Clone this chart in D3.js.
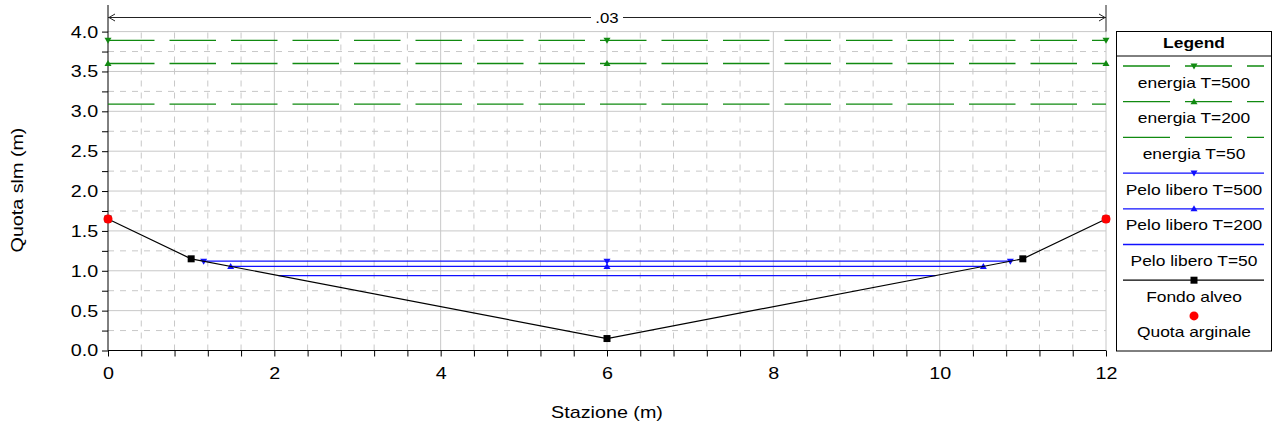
<!DOCTYPE html>
<html>
<head>
<meta charset="utf-8">
<script src="https://cdn.jsdelivr.net/npm/d3@7"></script>
<style>
  body { margin: 0; background: #fff; }
  text { font-family: "Liberation Sans", Arial, sans-serif; fill: #000; }
</style>
</head>
<body>
<svg width="1273" height="435"></svg>
<script>
// cross-section data
const stazioni = [0, 1, 6, 11, 12];
const fondoAlveo = [1.65, 1.15, 0.15, 1.15, 1.65];
const argineX = [0, 12];
const argineY = [1.65, 1.65];

const energiaNames = ['energia T=500', 'energia T=200', 'energia T=50'];
const energiaY = [3.89, 3.60, 3.09];
const energiaX = [0, 12];
const energiaMarkX = [[0, 6, 12], [0, 6, 12], []];

const peloNames = ['Pelo libero T=500', 'Pelo libero T=200', 'Pelo libero T=50'];
const peloY = [1.12, 1.055, 0.94];
const peloX = [[1.15, 10.85], [1.475, 10.525], [2.05, 9.95]];
const peloMarkX = [[1.15, 6, 10.85], [1.475, 6, 10.525], []];

const xTicks = [0, 2, 4, 6, 8, 10, 12];
const yTicks = [0, 0.5, 1, 1.5, 2, 2.5, 3, 3.5, 4];
const dimLabel = '.03';

const [w, h] = [1273, 435];
const sx = 1.16; // text in the picture is a bit wide
const x = d3.scaleLinear().domain([0, 12]).range([108, 1106]);
const y = d3.scaleLinear().domain([0, 4]).range([350.5, 31.6]);

const svg = d3.select('svg').attr('width', w).attr('height', h);

const green = '#118a11', blue = '#1010ff';
const markerPath = {
  down: 'M-3.5,-2.5L3.5,-2.5L0,3.5Z',
  up: 'M-3.5,2.5L3.5,2.5L0,-3.5Z',
  square: 'M-3.5,-3.5H3.5V3.5H-3.5Z'
};

// grid
const grid = svg.append('g');
const minorY = d3.range(0.25, 4, 0.5);
const minorX = d3.range(0.4, 12, 0.4).filter(v => Math.abs(v / 2 - Math.round(v / 2)) > 0.01);
grid.selectAll('.gy').data(minorY).enter().append('line')
  .attr('x1', x(0)).attr('x2', x(12))
  .attr('y1', d => y(d)).attr('y2', d => y(d))
  .attr('stroke', '#c8c8c8').attr('stroke-dasharray', '6,6');
grid.selectAll('.gx').data(minorX).enter().append('line')
  .attr('x1', d => x(d)).attr('x2', d => x(d))
  .attr('y1', y(0)).attr('y2', y(4))
  .attr('stroke', '#c8c8c8').attr('stroke-dasharray', '6,6');
grid.selectAll('.Gy').data(yTicks.slice(1)).enter().append('line')
  .attr('x1', x(0)).attr('x2', x(12))
  .attr('y1', d => y(d)).attr('y2', d => y(d))
  .attr('stroke', '#c8c8c8');
grid.selectAll('.Gx').data(xTicks.slice(1)).enter().append('line')
  .attr('x1', d => x(d)).attr('x2', d => x(d))
  .attr('y1', y(0)).attr('y2', y(4))
  .attr('stroke', '#c8c8c8');

// axes
const yAxis = svg.append('g').attr('transform', `translate(${x(0)},0)`)
  .call(d3.axisLeft(y).tickValues(yTicks).tickSize(6).tickFormat(d3.format('.1f')));
yAxis.call(g => g.select('.domain').remove());
yAxis.selectAll('text').attr('x', -8.5).attr('transform', `scale(${sx},1)`)
  .style('font-size', '17px').style('font-family', 'Liberation Sans, Arial, sans-serif').attr('fill', '#000');
svg.append('g').attr('transform', `translate(${x(0)},0)`)
  .call(d3.axisLeft(y).tickValues(d3.range(0.25, 4, 0.5)).tickSize(6).tickFormat(''))
  .call(g => g.select('.domain').remove());

const xAxis = svg.append('g').attr('transform', `translate(0,${y(0)})`)
  .call(d3.axisBottom(x).tickValues(xTicks).tickSize(6).tickFormat(d3.format('d')));
xAxis.call(g => g.select('.domain').remove());
xAxis.selectAll('text').attr('y', 16).attr('transform', `scale(${sx},1)`)
  .style('font-size', '17px').style('font-family', 'Liberation Sans, Arial, sans-serif').attr('fill', '#000');
svg.append('g').attr('transform', `translate(0,${y(0)})`)
  .call(d3.axisBottom(x).tickValues(minorX).tickSize(6).tickFormat(''))
  .call(g => g.select('.domain').remove());

svg.append('line').attr('x1', x(0)).attr('x2', x(0)).attr('y1', 5).attr('y2', y(0))
  .attr('stroke', '#000');
svg.append('line').attr('x1', x(0)).attr('x2', x(12)).attr('y1', y(0)).attr('y2', y(0))
  .attr('stroke', '#000');

// axis titles
svg.append('text').text('Stazione (m)')
  .attr('transform', `translate(${x(6)},418) scale(${sx},1)`)
  .style('text-anchor', 'middle').style('font-size', '17px');
svg.append('text').text('Quota slm (m)')
  .attr('transform', `translate(23,190) rotate(-90) scale(${sx},1)`)
  .style('text-anchor', 'middle').style('font-size', '17px');

// dimension line on top
const dim = svg.append('g').attr('stroke', '#222').attr('fill', 'none');
dim.append('line').attr('x1', x(0)).attr('x2', x(12)).attr('y1', 17.5).attr('y2', 17.5);
dim.append('line').attr('x1', x(12)).attr('x2', x(12)).attr('y1', 5).attr('y2', y(4));
dim.append('path').attr('d', `M${x(0) + 7},14L${x(0) + 1},17.5L${x(0) + 7},21`);
dim.append('path').attr('d', `M${x(12) - 7},14L${x(12) - 1},17.5L${x(12) - 7},21`);
svg.append('rect').attr('x', x(6) - 16).attr('y', 9).attr('width', 32).attr('height', 16).attr('fill', '#fff');
svg.append('text').text(dimLabel)
  .attr('transform', `translate(${x(6)},22.5) scale(1.2,1)`)
  .style('text-anchor', 'middle').style('font-size', '14px');

const line = d3.line().x(d => x(d[0])).y(d => y(d[1]));

// energia lines
energiaY.forEach((v, i) => {
  svg.append('path').datum(energiaX.map(e => [e, v])).attr('d', line)
    .attr('fill', 'none').attr('stroke', green).attr('stroke-width', 1.3)
    .attr('stroke-dasharray', '46.5,15');
  svg.selectAll(null).data(energiaMarkX[i]).enter().append('path')
    .attr('d', i === 0 ? markerPath.down : markerPath.up)
    .attr('transform', d => `translate(${x(d)},${y(v)})`)
    .attr('fill', green);
});

// pelo libero lines
peloY.forEach((v, i) => {
  svg.append('path').datum(peloX[i].map(e => [e, v])).attr('d', line)
    .attr('fill', 'none').attr('stroke', blue).attr('stroke-width', 1.3);
  svg.selectAll(null).data(peloMarkX[i]).enter().append('path')
    .attr('d', i === 0 ? markerPath.down : markerPath.up)
    .attr('transform', d => `translate(${x(d)},${y(v)})`)
    .attr('fill', blue);
});

// fondo alveo
const fondo = stazioni.map((s, i) => [s, fondoAlveo[i]]);
svg.append('path').datum(fondo).attr('d', line)
  .attr('fill', 'none').attr('stroke', '#000').attr('stroke-width', 1.2);
svg.selectAll('.sq').data(fondo).enter().append('path')
  .attr('d', markerPath.square)
  .attr('transform', d => `translate(${x(d[0])},${y(d[1])})`)
  .attr('fill', '#000');

// quota arginale
svg.selectAll('.arg').data(argineX).enter().append('circle')
  .attr('cx', d => x(d)).attr('cy', (d, i) => y(argineY[i]))
  .attr('r', 4.5).attr('fill', '#f00');

// legend
const lg = svg.append('g');
lg.append('rect').attr('x', 1116.5).attr('y', 31.5).attr('width', 155).attr('height', 319.5)
  .attr('fill', '#fff').attr('stroke', '#000');
lg.append('line').attr('x1', 1116.5).attr('x2', 1271.5).attr('y1', 56).attr('y2', 56).attr('stroke', '#000');
lg.append('text').text('Legend')
  .attr('transform', `translate(1194,48) scale(${sx},1)`)
  .style('text-anchor', 'middle').style('font-size', '15px').style('font-weight', 'bold');

const legendItems = [
  { name: energiaNames[0], color: green, dash: '47,15', mark: 'down' },
  { name: energiaNames[1], color: green, dash: '47,15', mark: 'up' },
  { name: energiaNames[2], color: green, dash: '47,15', mark: null },
  { name: peloNames[0], color: blue, dash: null, mark: 'down' },
  { name: peloNames[1], color: blue, dash: null, mark: 'up' },
  { name: peloNames[2], color: blue, dash: null, mark: null },
  { name: 'Fondo alveo', color: '#000', dash: null, mark: 'square' },
  { name: 'Quota arginale', color: '#f00', dash: null, mark: 'dot' }
];
legendItems.forEach((it, i) => {
  const ly = 66 + i * 35.7;
  if (it.mark !== 'dot') {
    lg.append('line').attr('x1', 1123).attr('x2', 1264).attr('y1', ly).attr('y2', ly)
      .attr('stroke', it.color).attr('stroke-width', 1.3)
      .attr('stroke-dasharray', it.dash);
  }
  if (it.mark === 'dot') {
    lg.append('circle').attr('cx', 1194).attr('cy', ly).attr('r', 4.5).attr('fill', it.color);
  } else if (it.mark) {
    lg.append('path').attr('d', markerPath[it.mark])
      .attr('transform', `translate(1194,${ly})`).attr('fill', it.color);
  }
  lg.append('text').text(it.name)
    .attr('transform', `translate(1194,${ly + 21.5}) scale(${sx},1)`)
    .style('text-anchor', 'middle').style('font-size', '15px');
});
</script>
</body>
</html>
